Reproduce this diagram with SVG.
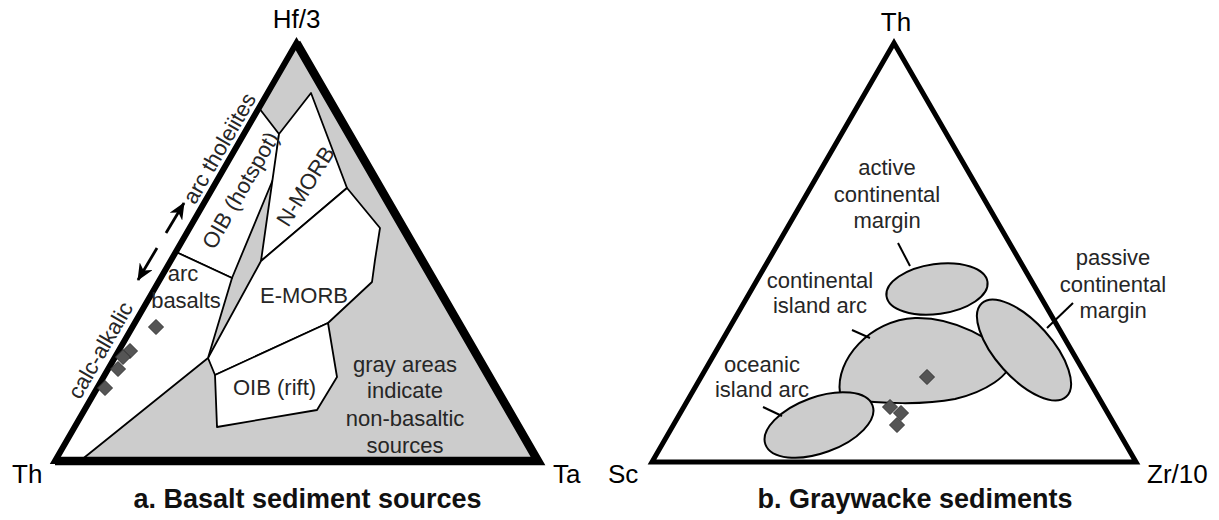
<svg xmlns="http://www.w3.org/2000/svg" width="1219" height="520" viewBox="0 0 1219 520">
<defs>
<style>
.lbl{font-family:"Liberation Sans",Arial,sans-serif;font-size:22px;fill:#262626}
.vtx{font-family:"Liberation Sans",Arial,sans-serif;font-size:26px;fill:#000}
.ttl{font-family:"Liberation Sans",Arial,sans-serif;font-size:27px;font-weight:bold;fill:#111}
.wr{fill:#fff;stroke:#000;stroke-width:1.8;stroke-linejoin:round}
.gr{fill:#cccccc;stroke:#000;stroke-width:2}
.pt{fill:#555;stroke:#333;stroke-width:1}
.lead{stroke:#000;stroke-width:2;fill:none}
.arr{stroke:#000;stroke-width:2.8;fill:none}
</style>
<marker id="ah" viewBox="0 0 17 15" refX="16" refY="7.5" markerWidth="17" markerHeight="15" markerUnits="userSpaceOnUse" orient="auto">
<path d="M0,0 L17,7.5 L0,15 L5,7.5 Z" fill="#000"/>
</marker>
<path id="dia" d="M0,-7.5 L7.5,0 L0,7.5 L-7.5,0 Z"/>
</defs>
<rect width="1219" height="520" fill="#fff"/>

<g id="triangle-a">
<polygon points="55,461 296.5,43 538,461" fill="#cccccc"/>
<g id="region-oib-hotspot"><polygon class="wr" points="259,108 279,134 274,177 232,278 176,252"/></g>
<g id="region-n-morb"><polygon class="wr" points="279,134 311,93 347,188 261,261"/></g>
<g id="region-e-morb"><polygon class="wr" points="261,261 347,188 380,228 375,260 372,282 328,323 215,375 208,358"/></g>
<g id="region-oib-rift"><polygon class="wr" points="215,375 328,323 337,377 317,410 217,427"/></g>
<g id="region-arc-basalts"><polygon class="wr" points="55,461 176,252 232,278 208,358 80,461"/></g>
<polygon points="55,461 296.5,43 538,461" fill="none" stroke="#000" stroke-width="6" stroke-linejoin="miter"/>
<polyline points="296.5,43 538,461 55,461" fill="none" stroke="#000" stroke-width="8.5" stroke-linejoin="miter"/>
<g id="points-a">
<use href="#dia" class="pt" x="156" y="327"/>
<use href="#dia" class="pt" x="130" y="351"/>
<use href="#dia" class="pt" x="123" y="357"/>
<use href="#dia" class="pt" x="118" y="369"/>
<use href="#dia" class="pt" x="105" y="388"/>
</g>
<text class="vtx" x="296.5" y="28" text-anchor="middle">Hf/3</text>
<text class="vtx" x="12" y="483">Th</text>
<text class="vtx" x="553" y="483">Ta</text>
<text class="lbl" transform="translate(219,148) rotate(-60)" y="8" text-anchor="middle">arc tholeiites</text>
<text class="lbl" transform="translate(100,350) rotate(-60)" y="8" text-anchor="middle">calc-alkalic</text>
<text class="lbl" transform="translate(240,190) rotate(-60)" y="8" text-anchor="middle">OIB (hotspot)</text>
<text class="lbl" transform="translate(305,186) rotate(-58)" y="8" text-anchor="middle">N-MORB</text>
<text class="lbl" x="183" y="281" text-anchor="middle">arc</text>
<text class="lbl" x="186" y="308" text-anchor="middle">basalts</text>
<text class="lbl" x="260" y="303">E-MORB</text>
<text class="lbl" x="233" y="395">OIB (rift)</text>
<text class="lbl" text-anchor="middle"><tspan x="405" y="372">gray areas</tspan><tspan x="405" y="398">indicate</tspan><tspan x="405" y="426">non-basaltic</tspan><tspan x="405" y="453">sources</tspan></text>
<text class="ttl" x="307.5" y="508" text-anchor="middle">a. Basalt sediment sources</text>
</g>

<g id="triangle-b">
<polygon points="652,462 894,43 1136,462" fill="#fff" stroke="#000" stroke-width="5" stroke-linejoin="miter"/>
<g id="field-active"><ellipse class="gr" cx="937" cy="289" rx="51" ry="25" transform="rotate(-8 937 289)"/></g>
<g id="field-continental-arc"><path class="gr" d="M840,393 C835,360 870,320 915,318 C955,317 995,340 1010,360 C1012,375 985,392 955,399 C925,405 880,404 848,399 C843,398 840,396 840,393 Z"/></g>
<g id="field-passive"><ellipse class="gr" cx="1024" cy="350" rx="63" ry="28" transform="rotate(48 1024 350)"/></g>
<g id="field-oceanic"><ellipse class="gr" cx="819" cy="425" rx="57" ry="28" transform="rotate(-20 819 425)"/></g>
<g id="points-b">
<use href="#dia" class="pt" x="927" y="377"/>
<use href="#dia" class="pt" x="890" y="407"/>
<use href="#dia" class="pt" x="901" y="413"/>
<use href="#dia" class="pt" x="897" y="425"/>
</g>
<text class="vtx" x="896" y="31" text-anchor="middle">Th</text>
<text class="vtx" x="608" y="483">Sc</text>
<text class="vtx" x="1147" y="483">Zr/10</text>
<text class="lbl" text-anchor="middle"><tspan x="887" y="175">active</tspan><tspan x="887" y="202">continental</tspan><tspan x="887" y="228">margin</tspan></text>
<text class="lbl" text-anchor="middle"><tspan x="820" y="288">continental</tspan><tspan x="820" y="313">island arc</tspan></text>
<text class="lbl" text-anchor="middle"><tspan x="762" y="372">oceanic</tspan><tspan x="762" y="397">island arc</tspan></text>
<text class="lbl" text-anchor="middle"><tspan x="1113" y="265">passive</tspan><tspan x="1113" y="292">continental</tspan><tspan x="1113" y="318">margin</tspan></text>
<text class="ttl" x="915" y="508" text-anchor="middle">b. Graywacke sediments</text>
</g>

<g id="connectors">
<line class="arr" x1="166" y1="233" x2="184" y2="203" marker-end="url(#ah)"/>
<line class="arr" x1="157" y1="248" x2="138" y2="280" marker-end="url(#ah)"/>
<line class="lead" x1="898" y1="243" x2="910" y2="266"/>
<line class="lead" x1="852" y1="330" x2="870" y2="338"/>
<line class="lead" x1="763" y1="407" x2="782" y2="416"/>
<line class="lead" x1="1047" y1="328" x2="1073" y2="303"/>
</g>
</svg>
